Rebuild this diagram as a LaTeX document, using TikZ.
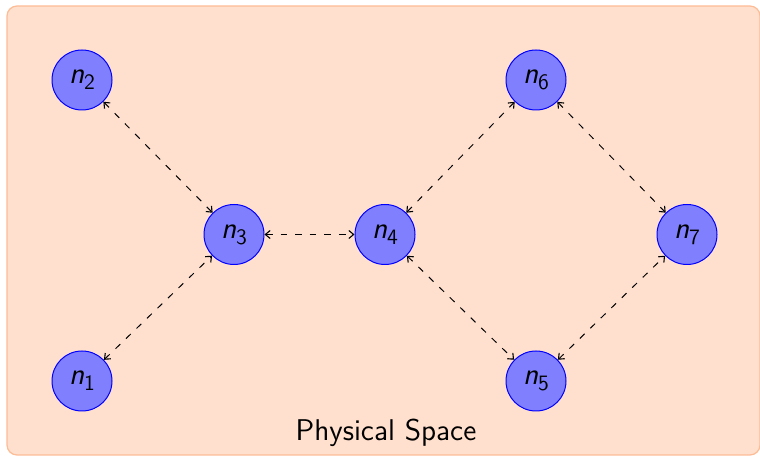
\documentclass[tikz,border=0pt]{standalone}
\usetikzlibrary{arrows.meta}
\definecolor{bgfill}{RGB}{255,224,206}
\definecolor{bgline}{RGB}{252,188,150}
\tikzset{
  peer/.style={circle, draw=blue, fill=blue!50, minimum size=30pt, inner sep=0pt, line width=0.5pt, font=\sffamily\fontsize{15}{17}\selectfont},
  tipx/.tip={Straight Barb[length=2.4pt, width=4pt, line width=0.55pt]},
  link/.style={dash pattern=on 3.3pt off 4pt, tipx-tipx, line width=0.5pt}
}
\newcommand{\nlab}[1]{{\slshape n}\raisebox{-0.45ex}{\fontsize{11}{12}\selectfont #1}}
\begin{document}
\begin{tikzpicture}[x=0.5pt, y=-0.5pt]
\useasboundingbox (0,0) rectangle (760,458);
\node[draw=bgline, fill=bgfill, rounded corners=5pt, minimum width=376.5pt, minimum height=224.5pt, inner sep=0pt, line width=0.6pt] (bg) at (383.5,230.5) {};
\node[font=\sffamily\fontsize{15}{17}\selectfont] (lab) at (386,433) {Physical Space};
\node[peer] (n1) at (82,381) {\nlab{1}};
\node[peer] (n2) at (82,80) {\nlab{2}};
\node[peer] (n3) at (234,234.5) {\nlab{3}};
\node[peer] (n4) at (385,234.5) {\nlab{4}};
\node[peer] (n5) at (536,381) {\nlab{5}};
\node[peer] (n6) at (536,80) {\nlab{6}};
\node[peer] (n7) at (687,234.5) {\nlab{7}};
\draw[link] (n2) -- (n3);
\draw[link] (n1) -- (n3);
\draw[link] (n3) -- (n4);
\draw[link] (n4) -- (n6);
\draw[link] (n4) -- (n5);
\draw[link] (n6) -- (n7);
\draw[link] (n5) -- (n7);
\end{tikzpicture}
\end{document}
